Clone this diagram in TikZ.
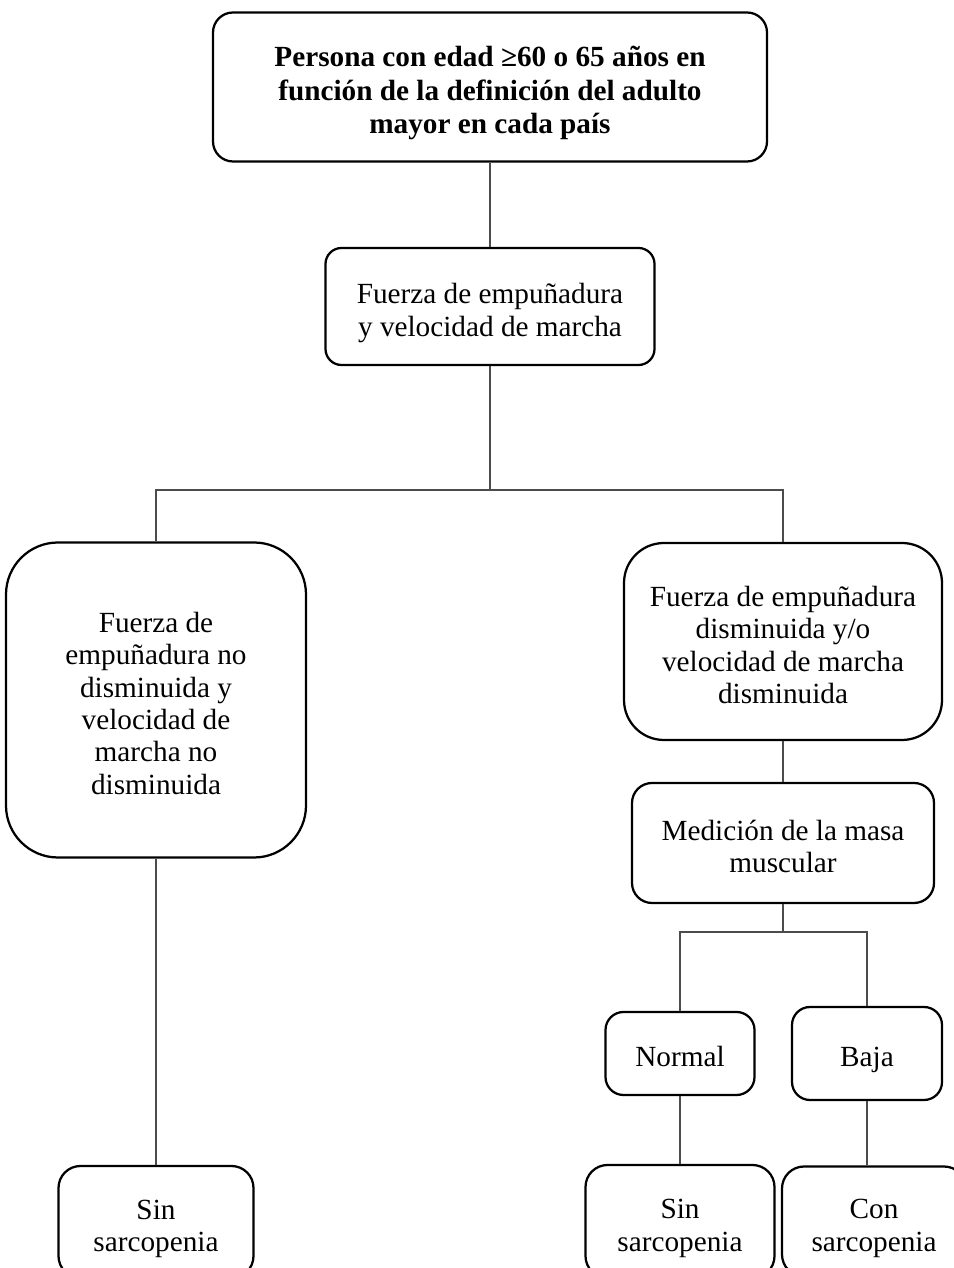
\documentclass[tikz,border=0pt]{standalone}
\usepackage{fontspec}
\setmainfont{Liberation Serif}
\usepackage{tikz}
\usetikzlibrary{positioning}
\newcommand{\lift}{\rule{0pt}{26pt}}
\tikzstyle{box} = [draw=black, line width=1.6pt, align=center, inner sep=0pt, font=\fontsize{20.8}{23}\selectfont, execute at begin node=\lift, execute at end node=\strut]
\tikzstyle{titlebox} = [box, font=\fontsize{20.8}{23.8}\selectfont\bfseries]
\tikzstyle{link} = [black!70, line width=0.8pt]

\begin{document}
\begin{tikzpicture}
  % Sarcopenia screening tree
  \useasboundingbox (0,0) rectangle (23.85,31.7);
  \node[titlebox, rounded corners=0.5cm, minimum width=13.85cm, minimum height=3.725cm] (persona) at (12.25,29.525) {\lift Persona con edad ≥60 o 65 años en\\función de la definición del adulto\\mayor en cada país};
  \node[box, rounded corners=0.4cm, minimum width=8.225cm, minimum height=2.925cm] (fuerza) at (12.25,24.0375) {\lift Fuerza de empuñadura\\y velocidad de marcha};
  \coordinate (split1) at (12.25,19.45);
  \node[box, rounded corners=1.3cm, minimum width=7.5cm, minimum height=7.875cm] (nodism) at (3.9,14.2) {\lift Fuerza de\\empuñadura no\\disminuida y\\velocidad de\\marcha no\\disminuida};
  \node[box, rounded corners=1cm, minimum width=7.95cm, minimum height=4.925cm] (dism) at (19.575,15.6625) {\lift Fuerza de empuñadura\\disminuida y/o\\velocidad de marcha\\disminuida};
  \node[box, rounded corners=0.5cm, minimum width=7.55cm, minimum height=3cm] (masa) at (19.575,10.625) {\lift Medición de la masa\\muscular};
  \coordinate (split2) at (19.575,8.4);
  \node[box, rounded corners=0.45cm, minimum width=3.725cm, minimum height=2.075cm] (normal) at (17,5.3625) {Normal};
  \node[box, rounded corners=0.45cm, minimum width=3.75cm, minimum height=2.325cm] (baja) at (21.675,5.3625) {Baja};
  \node[box, rounded corners=0.55cm, minimum width=4.875cm, minimum height=2.8cm] (sinA) at (3.9,1.15) {\lift Sin\\sarcopenia};
  \node[box, rounded corners=0.55cm, minimum width=4.725cm, minimum height=2.825cm] (sinB) at (17,1.1625) {\lift Sin\\sarcopenia};
  \node[box, rounded corners=0.55cm, minimum width=4.6cm, minimum height=2.75cm] (con) at (21.85,1.1625) {\lift Con\\sarcopenia};

  \draw[link] (persona) -- (fuerza);
  \draw[link] (fuerza) -- (split1);
  \draw[link] (split1) -| (nodism);
  \draw[link] (split1) -| (dism);
  \draw[link] (nodism) -- (sinA);
  \draw[link] (dism) -- (masa);
  \draw[link] (masa) -- (split2);
  \draw[link] (split2) -| (normal);
  \draw[link] (split2) -| (baja);
  \draw[link] (normal) -- (sinB);
  \draw[link] (baja) -- (baja |- con.north);
\end{tikzpicture}
\end{document}
